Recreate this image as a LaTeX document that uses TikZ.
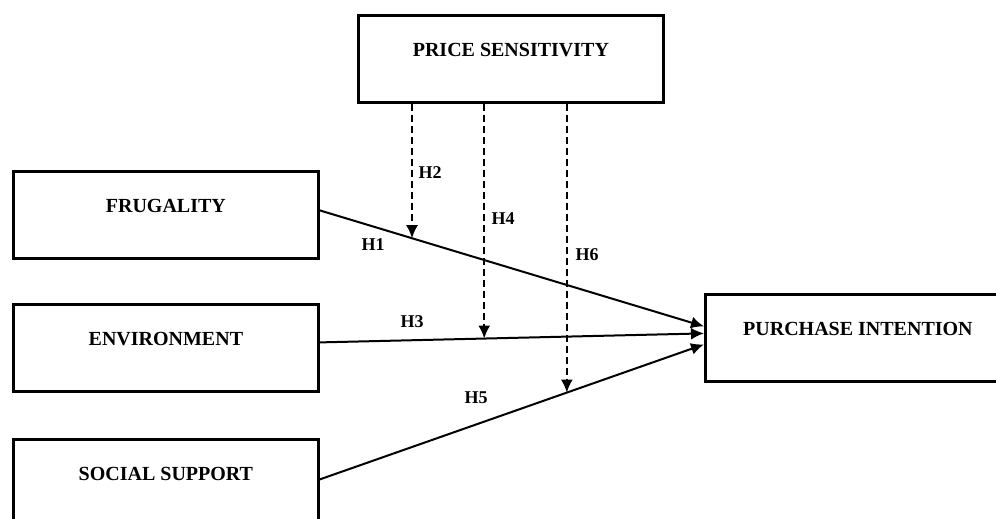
\documentclass[tikz,border=0pt]{standalone}
\usepackage{fontspec}
\setmainfont{Liberation Serif}
\usetikzlibrary{calc}
\usetikzlibrary{arrows.meta, positioning}

\tikzset{
  construct/.style={draw, line width=2.8pt, inner sep=0pt, minimum width=305pt,
    text height=41.5pt, text depth=45.5pt, font=\fontsize{20}{22}\selectfont\bfseries},
  hyp/.style={font=\fontsize{18}{20}\selectfont\bfseries},
  effect/.style={line width=2pt, -{Latex[length=13pt,width=12pt]}},
  moderate/.style={effect, dash pattern=on 7pt off 4pt},
}

\begin{document}
\begin{tikzpicture}[x=1pt, y=-1pt]
\useasboundingbox (0,0) rectangle (996,519);

% Constructs
\node[construct, anchor=north west] (price) at (357,14) {PRICE SENSITIVITY};
\node[construct, anchor=north west] (frug) at (12,170) {FRUGALITY};
\node[construct, anchor=north west] (env) at (12,303) {ENVIRONMENT};
\node[construct, anchor=north west] (soc) at (12,438) {SOCIAL SUPPORT};
\node[construct, anchor=north west] (intent) at (704,293) {PURCHASE INTENTION};

% Direct paths
\draw[effect] ([yshift=4.5pt]frug.east) -- coordinate[pos=0.24] (m2) ([yshift=11.5pt]intent.west);
\draw[effect] ([yshift=5.5pt]env.east) -- coordinate[pos=0.428] (m4) ([yshift=4.5pt]intent.west);
\draw[effect] ([yshift=3.5pt]soc.east) -- coordinate[pos=0.643] (m6) ([yshift=-6.5pt]intent.west);

% Moderating paths
\draw[moderate] (price.south -| m2) -- (m2);
\draw[moderate] (price.south -| m4) -- (m4);
\draw[moderate] (price.south -| m6) -- (m6);

% Labels
\node[hyp] (h1) at (373,245) {H1};
\node[hyp] (h2) at (430,173) {H2};
\node[hyp] (h3) at (412,322) {H3};
\node[hyp] (h4) at (503,219) {H4};
\node[hyp] (h5) at (476,398) {H5};
\node[hyp] (h6) at (587,255) {H6};

\end{tikzpicture}
\end{document}
